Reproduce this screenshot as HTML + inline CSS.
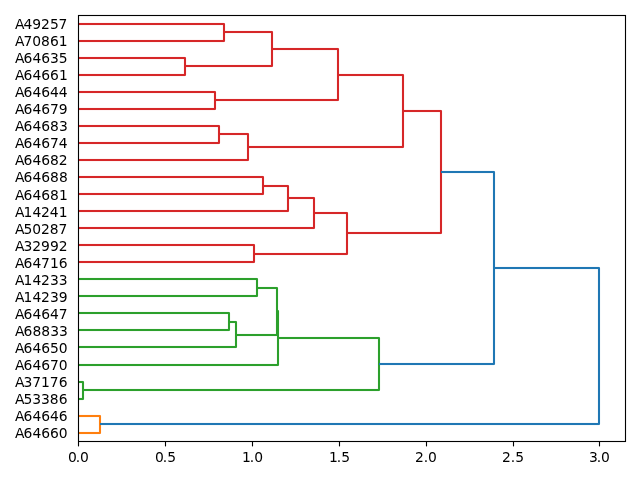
<!DOCTYPE html>
<html lang="en">
<head>
<meta charset="utf-8">
<title>Dendrogram</title>
<style>
html,body{margin:0;padding:0;background:#fff;}
body{width:640px;height:480px;overflow:hidden;}
svg{display:block;}
text{font-family:"DejaVu Sans","Liberation Sans",sans-serif;font-size:13.889px;fill:#000;}
.lk{fill:none;stroke-width:2.0833;stroke-linejoin:round;stroke-linecap:butt;}
.sp{fill:none;stroke:#000;stroke-width:1.1111;stroke-linecap:square;}
.tk{stroke:#000;stroke-width:1.1111;stroke-linecap:butt;}
</style>
</head>
<body>
<svg width="640" height="480" viewBox="0 0 640 480">
<rect x="0" y="0" width="640" height="480" fill="#ffffff"/>
<g class="lk" stroke="#ff7f0e">
<polyline points="78,416 100,416 100,433 78,433"/>
</g>
<g fill="#ff7f0e">
<rect x="78" y="414.9583" width="22" height="2.0833"/>
<rect x="78" y="431.9583" width="22" height="2.0833"/>
</g>
<g class="lk" stroke="#2ca02c">
<polyline points="78,279 257,279 257,296 78,296"/>
<polyline points="78,313 229,313 229,330 78,330"/>
<polyline points="229,322 236,322 236,347 78,347"/>
<polyline points="257,288 277,288 277,335 236,335"/>
<polyline points="277,311 278,311 278,365 78,365"/>
<polyline points="78,382 83,382 83,399 78,399"/>
<polyline points="278,338 379,338 379,390 83,390"/>
</g>
<g fill="#2ca02c">
<rect x="78" y="277.9583" width="179" height="2.0833"/>
<rect x="78" y="294.9583" width="179" height="2.0833"/>
<rect x="78" y="311.9583" width="151" height="2.0833"/>
<rect x="78" y="328.9583" width="151" height="2.0833"/>
<rect x="229" y="320.9583" width="7" height="2.0833"/>
<rect x="78" y="345.9583" width="158" height="2.0833"/>
<rect x="257" y="286.9583" width="20" height="2.0833"/>
<rect x="236" y="333.9583" width="41" height="2.0833"/>
<rect x="277" y="309.9583" width="1" height="2.0833"/>
<rect x="78" y="363.9583" width="200" height="2.0833"/>
<rect x="78" y="380.9583" width="5" height="2.0833"/>
<rect x="78" y="397.9583" width="5" height="2.0833"/>
<rect x="278" y="336.9583" width="101" height="2.0833"/>
<rect x="83" y="388.9583" width="296" height="2.0833"/>
</g>
<g class="lk" stroke="#d62728">
<polyline points="78,24 224,24 224,41 78,41"/>
<polyline points="78,58 185,58 185,75 78,75"/>
<polyline points="224,32 272,32 272,66 185,66"/>
<polyline points="78,92 215,92 215,109 78,109"/>
<polyline points="272,49 338,49 338,100 215,100"/>
<polyline points="78,126 219,126 219,143 78,143"/>
<polyline points="219,134 248,134 248,160 78,160"/>
<polyline points="338,75 403,75 403,147 248,147"/>
<polyline points="78,177 263,177 263,194 78,194"/>
<polyline points="263,186 288,186 288,211 78,211"/>
<polyline points="288,198 314,198 314,228 78,228"/>
<polyline points="78,245 254,245 254,262 78,262"/>
<polyline points="314,213 347,213 347,254 254,254"/>
<polyline points="403,111 441,111 441,233 347,233"/>
</g>
<g fill="#d62728">
<rect x="78" y="22.9583" width="146" height="2.0833"/>
<rect x="78" y="39.9584" width="146" height="2.0833"/>
<rect x="78" y="56.9584" width="107" height="2.0833"/>
<rect x="78" y="73.9583" width="107" height="2.0833"/>
<rect x="224" y="30.9583" width="48" height="2.0833"/>
<rect x="185" y="64.9583" width="87" height="2.0833"/>
<rect x="78" y="90.9583" width="137" height="2.0833"/>
<rect x="78" y="107.9583" width="137" height="2.0833"/>
<rect x="272" y="47.9584" width="66" height="2.0833"/>
<rect x="215" y="98.9583" width="123" height="2.0833"/>
<rect x="78" y="124.9583" width="141" height="2.0833"/>
<rect x="78" y="141.9583" width="141" height="2.0833"/>
<rect x="219" y="132.9583" width="29" height="2.0833"/>
<rect x="78" y="158.9583" width="170" height="2.0833"/>
<rect x="338" y="73.9583" width="65" height="2.0833"/>
<rect x="248" y="145.9583" width="155" height="2.0833"/>
<rect x="78" y="175.9583" width="185" height="2.0833"/>
<rect x="78" y="192.9583" width="185" height="2.0833"/>
<rect x="263" y="184.9583" width="25" height="2.0833"/>
<rect x="78" y="209.9583" width="210" height="2.0833"/>
<rect x="288" y="196.9583" width="26" height="2.0833"/>
<rect x="78" y="226.9583" width="236" height="2.0833"/>
<rect x="78" y="243.9583" width="176" height="2.0833"/>
<rect x="78" y="260.9583" width="176" height="2.0833"/>
<rect x="314" y="211.9583" width="33" height="2.0833"/>
<rect x="254" y="252.9583" width="93" height="2.0833"/>
<rect x="403" y="109.9583" width="38" height="2.0833"/>
<rect x="347" y="231.9583" width="94" height="2.0833"/>
</g>
<g class="lk" stroke="#1f77b4">
<polyline points="441,172 494,172 494,364 379,364"/>
<polyline points="494,268 599,268 599,424 100,424"/>
</g>
<g fill="#1f77b4">
<rect x="441" y="170.9583" width="53" height="2.0833"/>
<rect x="379" y="362.9583" width="115" height="2.0833"/>
<rect x="494" y="266.9583" width="105" height="2.0833"/>
<rect x="100" y="422.9583" width="499" height="2.0833"/>
</g>
<g class="tk">
<line x1="78.5" y1="441.5" x2="78.5" y2="446.4"/>
<line x1="165.5" y1="441.5" x2="165.5" y2="446.4"/>
<line x1="252.5" y1="441.5" x2="252.5" y2="446.4"/>
<line x1="339.5" y1="441.5" x2="339.5" y2="446.4"/>
<line x1="426.5" y1="441.5" x2="426.5" y2="446.4"/>
<line x1="513.5" y1="441.5" x2="513.5" y2="446.4"/>
<line x1="599.5" y1="441.5" x2="599.5" y2="446.4"/>
</g>
<rect class="sp" x="78.5" y="15.5" width="547" height="426"/>
<g>
<text x="15 23.5 32.25 41 50 58.5" y="29">A49257</text>
<text x="15 23.5 32.25 41 50 58.75" y="46">A70861</text>
<text x="15 23.5 32.5 41.25 50 58.75" y="63">A64635</text>
<text x="15 23.5 32.5 41.25 50 59" y="80">A64661</text>
<text x="15 23.5 32.5 41.25 50 58.75" y="97">A64644</text>
<text x="15 23.5 32.5 41.25 50 58.75" y="114">A64679</text>
<text x="15 23.5 32.5 41.25 50 59" y="131">A64683</text>
<text x="15 23.5 32.5 41.25 50 58.75" y="148">A64674</text>
<text x="15 23.5 32.5 41.25 50 58.75" y="165">A64682</text>
<text x="15 23.5 32.5 41.25 50 59" y="182">A64688</text>
<text x="15 23.5 32.5 41.25 50 59" y="200">A64681</text>
<text x="15 23.5 32.5 41 49.75 58.75" y="217">A14241</text>
<text x="15 23.5 32.25 41 49.75 58.5" y="234">A50287</text>
<text x="15 23.5 32.25 41 50 58.75" y="251">A32992</text>
<text x="15 23.5 32.5 41 50 58.75" y="268">A64716</text>
<text x="15 23.5 32.5 41 50 58.75" y="285">A14233</text>
<text x="15 23.5 32.5 41 50 58.75" y="302">A14239</text>
<text x="15 23.5 32.5 41.25 50 58.75" y="319">A64647</text>
<text x="15 23.5 32.5 41.25 50.25 59" y="336">A68833</text>
<text x="15 23.5 32.5 41.25 50 58.75" y="353">A64650</text>
<text x="15 23.5 32.5 41.25 50 58.75" y="370">A64670</text>
<text x="15 23.5 32.25 41 49.75 58.75" y="387">A37176</text>
<text x="15 23.5 32.25 41 49.75 58.75" y="404">A53386</text>
<text x="15 23.5 32.5 41.25 50 58.75" y="421">A64646</text>
<text x="15 23.5 32.5 41.25 50 58.75" y="438">A64660</text>
</g>
<g>
<text x="68 75.75 80" y="462">0.0</text>
<text x="155 162.75 167.25" y="462">0.5</text>
<text x="242 249.75 254.25" y="462">1.0</text>
<text x="329 336.75 341.25" y="462">1.5</text>
<text x="415 423.75 428" y="462">2.0</text>
<text x="502 510.75 515.25" y="462">2.5</text>
<text x="589 596.75 601" y="462">3.0</text>
</g>
</svg>
</body>
</html>
